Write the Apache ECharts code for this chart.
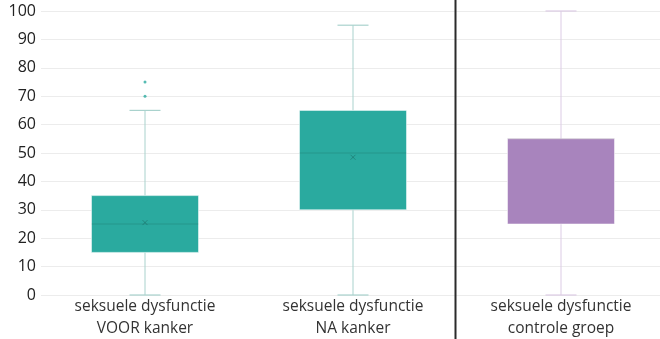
<!DOCTYPE html>
<html><head><meta charset="utf-8">
<script src="https://cdn.jsdelivr.net/npm/echarts@6/dist/echarts.min.js"></script>
<style>html,body{margin:0;padding:0;background:#fff}#c{width:660px;height:339px}</style>
</head><body><div id="c"></div>
<script>
const categories = ['seksuele dysfunctie\nVOOR kanker', 'seksuele dysfunctie\nNA kanker', 'seksuele dysfunctie\ncontrole groep'];
// [min, Q1, median, Q3, max]
const boxStats = [
  [0, 15, 25, 35, 65],
  [0, 30, 50, 65, 95],
  [0, 25, 55, 55, 100]
];
const means = [25.5, 48.5, null];
const outliers = [[0, 70], [0, 75]];
const yTicks = [0, 10, 20, 30, 40, 50, 60, 70, 80, 90, 100];
const boxColors = ['#2aaa9f', '#2aaa9f', '#a884bd'];
const whiskerColors = ['#a9d2cd', '#a9d2cd', '#dccbe5'];

const chart = echarts.init(document.getElementById('c'));
const data = boxStats.map((s, i) => [i].concat(s).concat([means[i] == null ? NaN : means[i]]));

chart.setOption({
  animation: false,
  grid: { left: 41, width: 624, top: 11, bottom: 44, containLabel: false, outerBoundsMode: 'none' },
  xAxis: {
    type: 'category', data: categories,
    axisLine: { show: false }, axisTick: { show: false },
    axisLabel: { color: '#333', fontSize: 15.5, fontFamily: 'Open Sans', lineHeight: 22, margin: 1 }
  },
  yAxis: {
    type: 'value', min: 0, max: 100, interval: 10,
    axisLine: { show: false }, axisTick: { show: false },
    axisLabel: { color: '#222', fontSize: 16, fontFamily: 'Open Sans', margin: 5 },
    splitLine: { lineStyle: { color: '#ececec', width: 1 } }
  },
  series: [
    {
      type: 'custom',
      data: data,
      encode: { x: 0, y: [1, 2, 3, 4, 5] },
      renderItem: function (params, api) {
        const i = api.value(0);
        const c = api.coord([i, 0]);
        const x = c[0];
        const y = v => api.coord([i, v])[1];
        const bw = 107, cw = 31;
        const mn = api.value(1), q1 = api.value(2), md = api.value(3), q3 = api.value(4), mx = api.value(5), mean = api.value(6);
        const wc = whiskerColors[i], bc = boxColors[i];
        const children = [
          { type: 'line', shape: { x1: x, y1: y(mx), x2: x, y2: y(q3) }, style: { stroke: wc, lineWidth: 1 } },
          { type: 'line', shape: { x1: x, y1: y(q1), x2: x, y2: y(mn) }, style: { stroke: wc, lineWidth: 1 } },
          { type: 'line', shape: { x1: x - cw / 2, y1: y(mx), x2: x + cw / 2, y2: y(mx) }, style: { stroke: wc, lineWidth: 1.2 } },
          { type: 'line', shape: { x1: x - cw / 2, y1: y(mn), x2: x + cw / 2, y2: y(mn) }, style: { stroke: wc, lineWidth: 1.2 } },
          { type: 'rect', shape: { x: x - bw / 2, y: y(q3), width: bw, height: y(q1) - y(q3) }, style: { fill: bc, stroke: 'rgba(255,255,255,0.5)', lineWidth: 1 } },
          { type: 'line', shape: { x1: x - bw / 2, y1: y(md), x2: x + bw / 2, y2: y(md) }, style: { stroke: 'rgba(0,0,0,0.12)', lineWidth: 1 } }
        ];
        if (!isNaN(mean)) {
          const my = y(mean);
          children.push({ type: 'line', shape: { x1: x - 2.5, y1: my - 2.5, x2: x + 2.5, y2: my + 2.5 }, style: { stroke: 'rgba(0,0,0,0.2)', lineWidth: 1 } });
          children.push({ type: 'line', shape: { x1: x - 2.5, y1: my + 2.5, x2: x + 2.5, y2: my - 2.5 }, style: { stroke: 'rgba(0,0,0,0.2)', lineWidth: 1 } });
        }
        return { type: 'group', children: children };
      }
    },
    {
      type: 'scatter', data: outliers, symbolSize: 3,
      itemStyle: { color: '#2aaa9f' }
    }
  ]
});

const p1 = chart.convertToPixel({ xAxisIndex: 0 }, 1);
const p2 = chart.convertToPixel({ xAxisIndex: 0 }, 2);
const sx = Math.round((p1 + p2) / 2) - 1.5;
chart.setOption({
  graphic: [{ type: 'line', shape: { x1: sx, y1: 0, x2: sx, y2: 339 }, style: { stroke: '#2b2b2b', lineWidth: 2 }, z: 100 }]
});
</script></body></html>
